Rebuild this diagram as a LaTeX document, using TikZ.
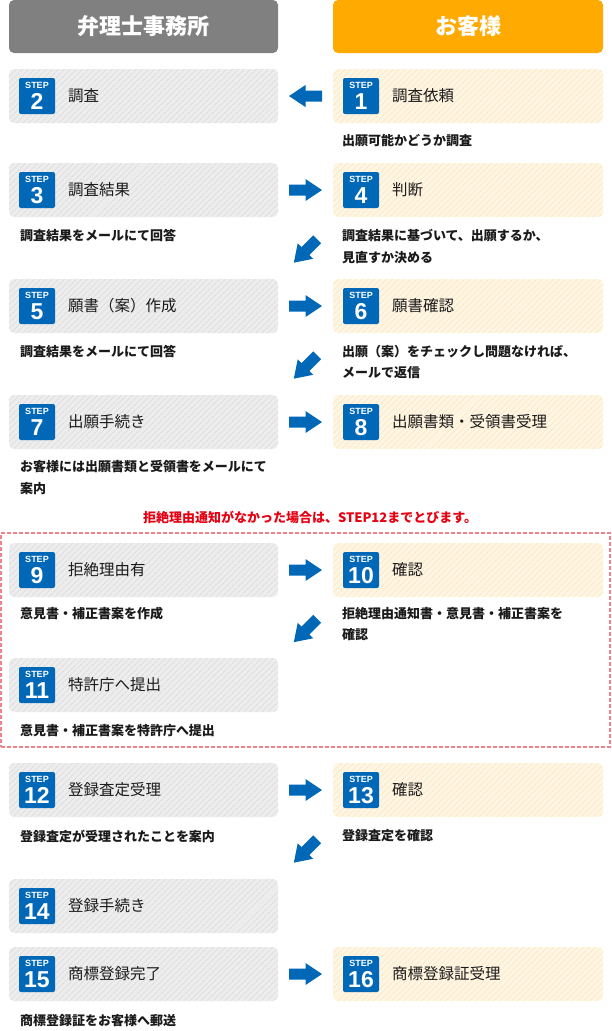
\documentclass[tikz,border=0pt]{standalone}
\usepackage{fontspec}
\setmainfont{Liberation Sans}
\newfontfamily\jp{Noto Sans CJK JP}
\usetikzlibrary{calc,patterns.meta}
\definecolor{hgray}{HTML}{808080}
\definecolor{horange}{HTML}{FFAA00}
\definecolor{lbase}{HTML}{EDEDED}
\definecolor{lstripe}{HTML}{DDDDDD}
\definecolor{rbase}{HTML}{FEF5E3}
\definecolor{rstripe}{HTML}{FCE8C6}
\definecolor{sblue}{HTML}{0068B7}
\definecolor{noteRed}{HTML}{E60012}
\definecolor{dashPink}{HTML}{F0828C}
\definecolor{txt}{HTML}{1A1A1A}
\tikzset{
  barrow/.pic={\fill[sblue] (-16.5,-5.5) -- (0,-5.5) -- (0,-11) -- (16.5,0) -- (0,11) -- (0,5.5) -- (-16.5,5.5) -- cycle;}
}
\newcommand\mystep[6]{%
  \node[#2] (#1) at (#3,#4) {};
  \node[badge] (#1n) at ($(#1.west)+(28,0)$) {};
  \node[stl] (#1s) at ($(#1n.north)+(0,10)$) {STEP};
  \node[snum] (#1d) at ($(#1n.north)+(0,31)$) {#5};
  \node[ttl] (#1t) at ($(#1.west)+(59,0)$) {#6};
}
\begin{document}
\begin{tikzpicture}[x=1pt,y=-1pt,
  every node/.style={inner sep=0pt, outer sep=0pt},
  hdr/.style={rounded corners=5pt, minimum width=269pt, minimum height=53pt, anchor=north west},
  hdrtxt/.style={text=white, font=\jp\bfseries\fontsize{22}{22}\selectfont},
  lbox/.style={rounded corners=5pt, minimum width=269pt, minimum height=54pt, anchor=north west, fill=lbase,
    postaction={pattern={Lines[angle=45,distance=4pt,line width=1pt]}, pattern color=lstripe}},
  rbox/.style={rounded corners=5pt, minimum width=270pt, minimum height=54pt, anchor=north west, fill=rbase,
    postaction={pattern={Lines[angle=45,distance=4pt,line width=1pt]}, pattern color=rstripe}},
  badge/.style={fill=sblue, rounded corners=2pt, minimum width=36pt, minimum height=36pt},
  stl/.style={text=white, font=\bfseries\fontsize{9}{9}\selectfont, anchor=base},
  snum/.style={text=white, font=\bfseries\fontsize{23}{23}\selectfont, anchor=base},
  ttl/.style={anchor=west, text=txt, font=\jp\fontsize{15.5}{18}\selectfont},
  captxt/.style={anchor=west, text=txt, font=\jp\bfseries\fontsize{13}{15}\selectfont},
  notetxt/.style={text=noteRed, font=\jp\bfseries\fontsize{13}{15}\selectfont},
  dbox/.style={draw=dashPink, line width=1.5pt, dash pattern=on 4pt off 2pt, anchor=north west},
]
\useasboundingbox (0,0) rectangle (611,1031);
% headers
\node[hdr, fill=hgray] (hl) at (9,0) {};
\node[hdrtxt] (hlt) at (hl.center) {弁理士事務所};
\node[hdr, fill=horange, minimum width=270pt] (hr) at (333,0) {};
\node[hdrtxt] (hrt) at (hr.center) {お客様};
% dashed group
\node[dbox, minimum width=609pt, minimum height=214pt] (grp) at (1,533) {};
\node[notetxt] (nt) at (310,517) {拒絶理由通知がなかった場合は、STEP12までとびます。};
% steps
\mystep{s2}{lbox}{9}{69}{2}{調査}
\mystep{s1}{rbox}{333}{69}{1}{調査依頼}
\mystep{s3}{lbox}{9}{163}{3}{調査結果}
\mystep{s4}{rbox}{333}{163}{4}{判断}
\mystep{s5}{lbox}{9}{279}{5}{願書（案）作成}
\mystep{s6}{rbox}{333}{279}{6}{願書確認}
\mystep{s7}{lbox}{9}{395}{7}{出願手続き}
\mystep{s8}{rbox}{333}{395}{8}{出願書類・受領書受理}
\mystep{s9}{lbox}{9}{543}{9}{拒絶理由有}
\mystep{s10}{rbox}{333}{543}{10}{確認}
\mystep{s11}{lbox}{9}{658}{11}{特許庁へ提出}
\mystep{s12}{lbox}{9}{763}{12}{登録査定受理}
\mystep{s13}{rbox}{333}{763}{13}{確認}
\mystep{s14}{lbox}{9}{879}{14}{登録手続き}
\mystep{s15}{lbox}{9}{947}{15}{商標登録完了}
\mystep{s16}{rbox}{333}{947}{16}{商標登録証受理}
% captions
\node[captxt] (c1) at (342,141) {出願可能かどうか調査};
\node[captxt] (c3) at (20,236) {調査結果をメールにて回答};
\node[captxt] (c4a) at (342,236) {調査結果に基づいて、出願するか、};
\node[captxt] (c4b) at (342,258) {見直すか決める};
\node[captxt] (c5) at (20,352) {調査結果をメールにて回答};
\node[captxt] (c6a) at (342,352) {出願（案）をチェックし問題なければ、};
\node[captxt] (c6b) at (342,373) {メールで返信};
\node[captxt] (c7a) at (20,467) {お客様には出願書類と受領書をメールにて};
\node[captxt] (c7b) at (20,489) {案内};
\node[captxt] (c9) at (20,614) {意見書・補正書案を作成};
\node[captxt] (c10a) at (342,614) {拒絶理由通知書・意見書・補正書案を};
\node[captxt] (c10b) at (342,635) {確認};
\node[captxt] (c11) at (20,731) {意見書・補正書案を特許庁へ提出};
\node[captxt] (c12) at (20,836) {登録査定が受理されたことを案内};
\node[captxt] (c13) at (342,836) {登録査定を確認};
\node[captxt] (c15) at (20,1021) {商標登録証をお客様へ郵送};
% arrows
\pic[rotate=180] at ($(s2.east)!0.5!(s1.west)$) {barrow};
\pic at ($(s3.east)!0.5!(s4.west)$) {barrow};
\pic at ($(s5.east)!0.5!(s6.west)$) {barrow};
\pic at ($(s7.east)!0.5!(s8.west)$) {barrow};
\pic at ($(s9.east)!0.5!(s10.west)$) {barrow};
\pic at ($(s12.east)!0.5!(s13.west)$) {barrow};
\pic at ($(s15.east)!0.5!(s16.west)$) {barrow};
\pic[rotate=225] at ($(s4.south west)!0.5!(s5.north east)+(0,3)$) {barrow};
\pic[rotate=225] at ($(s6.south west)!0.5!(s7.north east)+(0,3)$) {barrow};
\pic[rotate=225] at ($(s10.south west)!0.5!(s11.north east)+(0,3)$) {barrow};
\pic[rotate=225] at ($(s13.south west)!0.5!(s14.north east)+(0,3)$) {barrow};
\end{tikzpicture}
\end{document}
